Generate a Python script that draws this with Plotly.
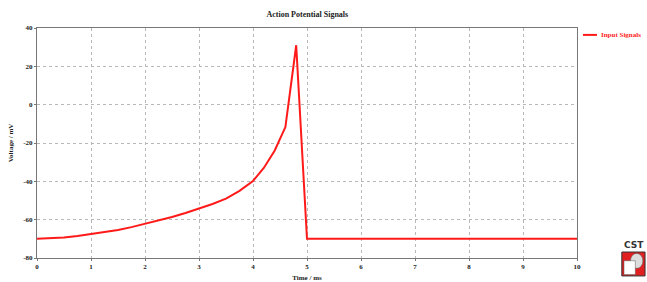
import plotly.graph_objects as go

time_ms = [0, 0.25, 0.5, 0.75, 1.0, 1.25, 1.5, 1.75, 2.0, 2.25, 2.5, 2.75, 3.0,
           3.25, 3.5, 3.75, 4.0, 4.2, 4.4, 4.6, 4.8, 5.0, 10.0]
voltage_mv = [-70, -69.8, -69.3, -68.5, -67.6, -66.6, -65.4, -63.9, -62.2, -60.5,
              -58.6, -56.5, -54.3, -51.8, -49.0, -45.0, -39.8, -33.0, -24.0, -11.7,
              31.0, -70, -70]
series_name = "Input Signals"
x_ticks = [0, 1, 2, 3, 4, 5, 6, 7, 8, 9, 10]
y_ticks = [-80, -60, -40, -20, 0, 20, 40]

serif = "Liberation Serif"
red = "#ff1a1a"
tickfont = dict(family=serif, size=7, color="#222", weight="bold")

fig = go.Figure()
fig.add_trace(go.Scatter(
    x=time_ms, y=voltage_mv, mode="lines", name=series_name,
    line=dict(color=red, width=2), showlegend=False,
))

fig.update_layout(
    width=647, height=282,
    margin=dict(l=37, r=70, t=28, b=24, autoexpand=False),
    paper_bgcolor="white", plot_bgcolor="white",
    title=dict(text="Action Potential Signals", x=0.475, xanchor="center",
               y=0.95, yanchor="middle",
               font=dict(family=serif, size=8, color="#222", weight="bold")),
    showlegend=False,
)
fig.update_xaxes(
    range=[0, 10], tickvals=x_ticks, ticktext=[str(t) for t in x_ticks],
    showgrid=True, gridcolor="#b8b8b8", griddash="dot", gridwidth=1,
    showline=True, linecolor="#777", linewidth=1, mirror=True,
    ticks="outside", ticklen=2, tickcolor="#777",
    tickfont=tickfont, zeroline=False,
    title=dict(text="Time / ms", font=dict(family=serif, size=7, color="#222", weight="bold"),
               standoff=4),
)
fig.update_yaxes(
    range=[-80, 40], tickvals=y_ticks, ticktext=[str(t) for t in y_ticks],
    showgrid=True, gridcolor="#b8b8b8", griddash="dot", gridwidth=1,
    showline=True, linecolor="#777", linewidth=1, mirror=True,
    ticks="outside", ticklen=2, tickcolor="#777",
    tickfont=tickfont, zeroline=False,
    title=dict(text="Voltage / mV", font=dict(family=serif, size=7, color="#222", weight="bold"),
               standoff=8),
)

# legend entry (line sample + label)
fig.add_shape(type="line", xref="paper", yref="paper", x0=1.011, x1=1.037, y0=0.970, y1=0.970,
              line=dict(color=red, width=2))
fig.add_annotation(xref="paper", yref="paper", x=1.040, y=0.970, xanchor="left",
                   yanchor="middle", text=series_name, showarrow=False,
                   font=dict(family=serif, size=7, color=red, weight="bold"))

# CST logo (decoration)
fig.add_annotation(xref="paper", yref="paper", x=1.105, y=0.058, xanchor="center",
                   yanchor="middle", text="CST", showarrow=False,
                   font=dict(family="DejaVu Sans", size=9, color="#333", weight="bold"))
fig.add_shape(type="rect", xref="paper", yref="paper", x0=1.083, x1=1.126, y0=-0.078, y1=0.026,
              fillcolor="#e02020", line=dict(color="#333", width=1))
fig.add_shape(type="circle", xref="paper", yref="paper", x0=1.099, x1=1.122, y0=-0.045, y1=0.02,
              fillcolor="#dddddd", line=dict(color="#555", width=0.5))
fig.add_shape(type="rect", xref="paper", yref="paper", x0=1.087, x1=1.108, y0=-0.072, y1=-0.012,
              fillcolor="white", line=dict(color="#555", width=0.5))

fig.write_html("out.html", config={"displayModeBar": False},
               post_script="document.body.style.margin='0';document.body.style.overflow='hidden';")
